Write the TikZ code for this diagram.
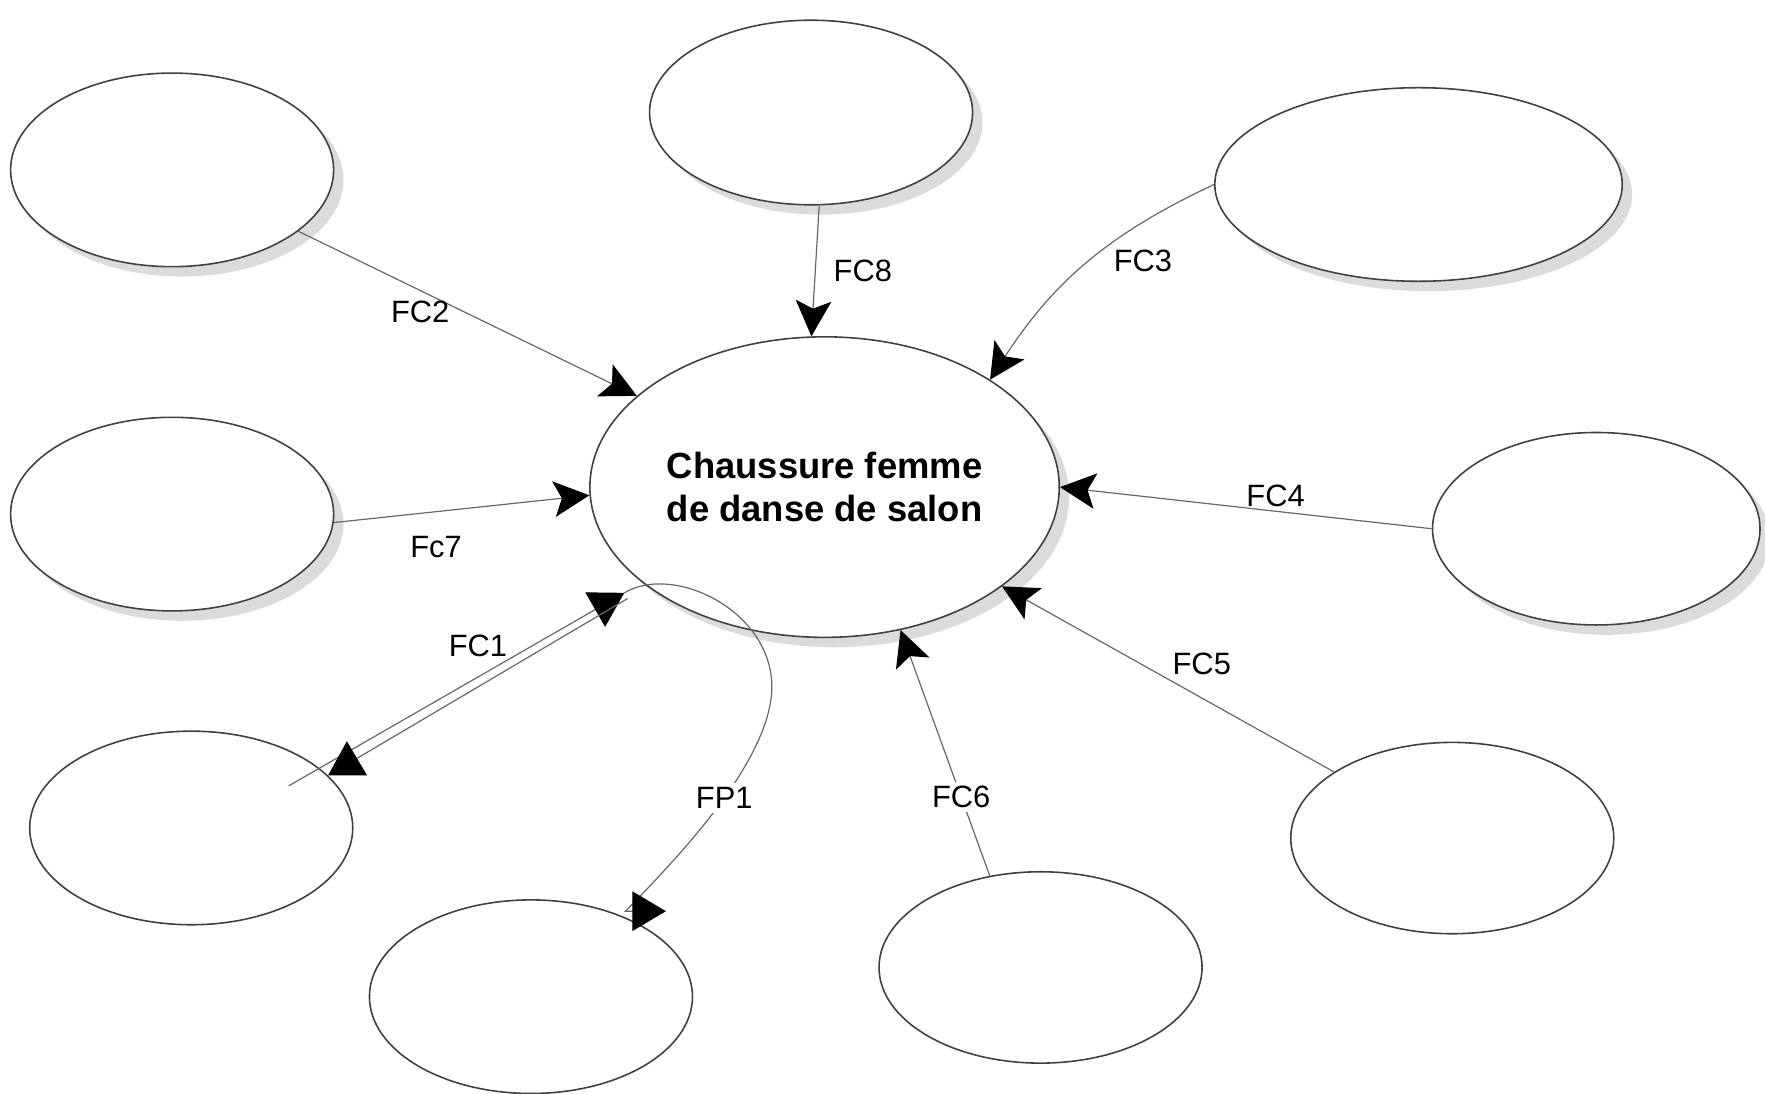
\documentclass[tikz,border=0pt]{standalone}
\usepackage{fontspec}
\setmainfont{Liberation Sans}
\usetikzlibrary{arrows.meta,shapes.geometric,shadows}

\begin{document}
\begin{tikzpicture}[x=0.01cm,y=-0.01cm,->,>={Stealth[length=9pt,width=9pt,inset=2pt,color=black]},
  every edge/.style={draw=black!60,line width=0.3pt},
  lien/.style={draw=black!60,line width=0.3pt},
  pointe/.style={-{Triangle[length=8.5pt,width=10pt,color=black]}},
  bulle/.style={ellipse,draw=black!75,fill=white,inner sep=0pt,minimum width=2.87cm,minimum height=1.72cm},
  ombre/.style={drop shadow={shadow xshift=2.5pt,shadow yshift=-2.5pt,fill=black!20,opacity=0.7}},
  fc/.style={font=\fontsize{7.8}{9}\selectfont,inner sep=1pt}]
  \useasboundingbox (0,0) rectangle (1569,972);

  \node [bulle,ombre,minimum width=4.17cm,minimum height=2.67cm,align=center,
    font=\fontsize{9.2}{10.8}\selectfont\bfseries] (P) at (733,433) {Chaussure femme\\de danse de salon};

  \node [bulle,ombre] (E2) at (153,151) {};
  \node [bulle,ombre,minimum height=1.64cm] (E8) at (721,100) {};
  \node [bulle,ombre,minimum width=3.62cm] (E3) at (1261,164) {};
  \node [bulle,ombre] (E7) at (153,457) {};
  \node [bulle,ombre,minimum width=2.91cm,minimum height=1.71cm] (E4) at (1419,470) {};
  \node [bulle] (E1) at (170,736) {};
  \node [bulle] (EP) at (472,886) {};
  \node [bulle,minimum height=1.70cm] (E6) at (925,860) {};
  \node [bulle,minimum height=1.70cm] (E5) at (1291,745) {};

  \coordinate (fc1) at (555,527);
  \coordinate (fp1) at (592,810);

  \path (E2) edge node[fc,pos=0.36,below=1.5pt] (l2) {FC2} (P);
  \path (E8.-85) edge node[fc,right=3.5pt] (l8) {FC8} (P.95);
  \path (E3.west) edge[bend right=16] node[fc,pos=0.3,below=4pt,xshift=3pt] (l3) {FC3} (P.33);
  \path (E7.-3) edge node[fc,pos=0.4,below=5pt] (l7) {Fc7} (P.182);
  \path (E4.west) edge node[fc,pos=0.42,above] (l4) {FC4} (P.east);
  \path (E5) edge node[fc,pos=0.5,above right] (l5) {FC5} (P);
  \path (E6.119) edge node[fc,pos=0.32,fill=white] (l6) {FC6} (P.-62);

  % FC1 : aller et retour
  \draw [lien,pointe,shorten <=-9pt] (E1.25) -- node[fc,pos=0.52,above=4pt] (l1) {FC1} (fc1);
  \draw [lien,pointe] ([shift={(3,5)}]fc1) -- (E1.21);

  % FP1
  \draw [lien,pointe] (fc1) .. controls (600,500) and (690,545) .. (686,615)
    .. controls (682,680) and (600,765) .. node[fc,pos=0.45,fill=white] (lp) {FP1} (556,810) -- (fp1);
\end{tikzpicture}
\end{document}
